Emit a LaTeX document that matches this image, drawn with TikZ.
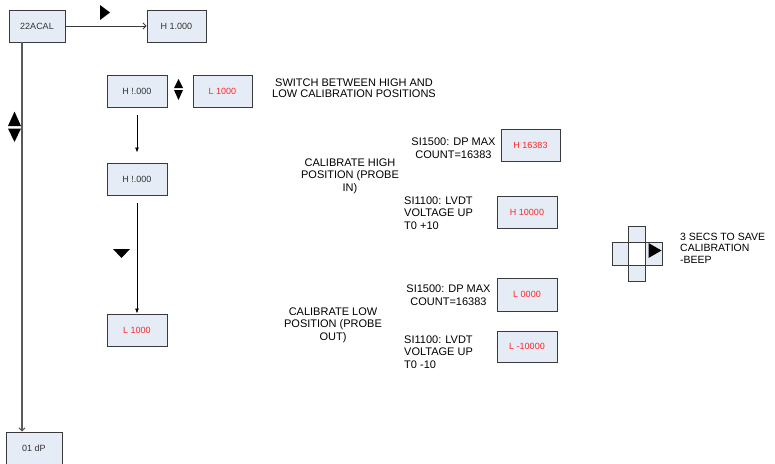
\documentclass[tikz,border=0pt]{standalone}
\usepackage{fontspec}
\setmainfont{Liberation Sans}
\usetikzlibrary{arrows.meta}
\definecolor{boxfill}{HTML}{E6ECF6}
\definecolor{boxline}{HTML}{3A3A3A}
\definecolor{txt}{HTML}{333333}
\definecolor{redtxt}{HTML}{FF2828}
\definecolor{leftline}{HTML}{5A5A5A}
\begin{document}
\begin{tikzpicture}[x=1pt,y=-1pt,
  box/.style={draw=boxline, fill=boxfill, line width=0.9pt, minimum width=60pt, minimum height=32pt, inner sep=0pt, font=\fontsize{9}{10}\selectfont, text=txt},
  redbox/.style={box, text=redtxt},
  note/.style={font=\fontsize{11}{12.5}\selectfont, align=center, inner sep=0pt, text=black},
  notel/.style={note, align=left, anchor=west},
  arr/.style={-{Latex[length=5pt,width=4pt]}, line width=0.8pt},
  barb/.style={-{Straight Barb[length=3pt,width=6pt]}, line width=0.8pt},
  tri/.style={fill=black, draw=none},
  cell/.style={draw=boxline, fill=boxfill, line width=0.8pt}
]
\useasboundingbox (0,0) rectangle (775,463);

% boxes
\node[box, minimum width=56pt] (a) at (37,26) {22ACAL};
\node[box, minimum width=59pt] (b) at (176.5,26) {H 1.000};
\node[box] (c) at (137,91) {H !.000};
\node[redbox, minimum width=59pt] (d) at (222.5,91) {L 1000};
\node[box] (e) at (137,179) {H !.000};
\node[redbox] (f) at (137,330) {L 1000};
\node[box, minimum width=56pt] (g) at (34,448) {01 dP};
\node[redbox, minimum width=59pt] (h) at (530.5,145) {H 16383};
\node[redbox] (i) at (527,212) {H 10000};
\node[redbox, minimum height=33pt] (j) at (527,294.5) {L 0000};
\node[redbox, minimum height=31pt] (k) at (527,346.5) {L -10000};

% connectors
\draw[barb, draw=boxline] (a.east) -- (b.west);
\draw[arr] ([yshift=-8pt]c.south) -- ([yshift=10pt]e.north);
\draw[arr] ([yshift=-8pt]e.south) -- (f.north);
\draw[barb, draw=leftline, line width=1.1pt] ([xshift=-15pt]a.south) -- ([xshift=-12pt]g.north);

% triangles
\fill[tri] (100,5) -- (100,20) -- (110,12.5) -- cycle;
\fill[tri] (174,88) -- (183,88) -- (178.5,79) -- cycle;
\fill[tri] (174,90) -- (183,90) -- (178.5,100) -- cycle;
\fill[tri] (8,126) -- (21,126) -- (14.5,111.5) -- cycle;
\fill[tri] (8,128.5) -- (21,128.5) -- (14.5,142) -- cycle;
\fill[tri] (113,249) -- (130,249) -- (121.5,258) -- cycle;

% cross icon
\draw[cell] (628.3,226.7) rectangle (645,242.3);
\draw[cell] (628.3,265) rectangle (645,281.7);
\draw[cell] (612.7,242.3) rectangle (628.3,265);
\draw[cell] (645,242.3) rectangle (662.7,265);
\draw[draw=boxline, fill=white, line width=0.8pt] (628.3,242.3) rectangle (645,265);
\fill[tri] (648.5,243) -- (648.5,258) -- (661.5,250.5) -- cycle;

% notes
\node[note, font=\fontsize{11}{11}\selectfont] (t1) at (354,88) {SWITCH BETWEEN HIGH AND\\LOW CALIBRATION POSITIONS};
\node[note] (t2) at (350,176) {CALIBRATE HIGH\\POSITION (PROBE\\IN)};
\node[note] (t3) at (453.5,148) {SI1500: DP MAX\\COUNT=16383};
\node[notel] (t4) at (404,213) {SI1100: LVDT\\VOLTAGE UP\\T0 +10};
\node[note] (t5) at (333,325) {CALIBRATE LOW\\POSITION (PROBE\\OUT)};
\node[note] (t6) at (448.5,295) {SI1500: DP MAX\\COUNT=16383};
\node[notel] (t7) at (404,352) {SI1100: LVDT\\VOLTAGE UP\\T0 -10};
\node[notel, font=\fontsize{10.5}{11.5}\selectfont] (t8) at (680,248) {3 SECS TO SAVE\\CALIBRATION\\-BEEP};
\end{tikzpicture}
\end{document}
